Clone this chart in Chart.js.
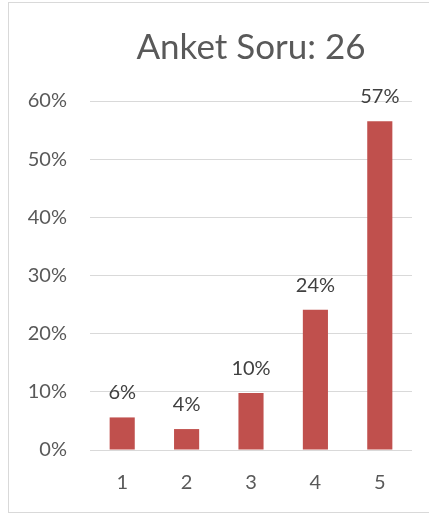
<!DOCTYPE html>
<html>
<head>
<meta charset="utf-8">
<script src="https://cdn.jsdelivr.net/npm/chart.js@4"></script>
<style>
    html, body { margin: 0; padding: 0; background: #fff; }
    #wrap { position: relative; width: 429px; height: 516px; }
    #frame {
        position: absolute; left: 8px; top: 2px; width: 425px; height: 511px;
        border: 1px solid #d9d9d9; box-sizing: border-box;
    }
    canvas { position: absolute; left: 0; top: 0; }
</style>
</head>
<body>
<div id="wrap">
    <div id="frame"></div>
    <canvas id="surveyChart" width="429" height="516"></canvas>
</div>
<script>
const categories = ['1', '2', '3', '4', '5'];
const shares = [5.6, 3.6, 9.8, 24.1, 56.5];      // percent of answers
const shareLabels = ['6%', '4%', '10%', '24%', '57%'];
const yTicks = [0, 10, 20, 30, 40, 50, 60];

const textGrey = '#595959';

// small inline plugin to print the value above every bar
const barLabels = {
    id: 'barLabels',
    afterDatasetsDraw(chart) {
        const ctx = chart.ctx;
        const meta = chart.getDatasetMeta(0);
        ctx.save();
        ctx.font = '20px Lato';
        ctx.fillStyle = '#404040';
        ctx.textAlign = 'center';
        ctx.textBaseline = 'alphabetic';
        meta.data.forEach((bar, i) => {
            ctx.fillText(shareLabels[i], bar.x, bar.y - 18);
        });
        ctx.restore();
    }
};

document.addEventListener('DOMContentLoaded', function () {
    const ctx = document.getElementById('surveyChart').getContext('2d');

    new Chart(ctx, {
        type: 'bar',
        data: {
            labels: categories,
            datasets: [{
                data: shares,
                backgroundColor: '#c0504d',
                barPercentage: 0.39,
                categoryPercentage: 1
            }]
        },
        plugins: [barLabels],
        options: {
            responsive: false,
            animation: false,
            layout: { padding: { left: 0, right: 17, top: 0, bottom: 0 } },
            plugins: {
                legend: { display: false },
                tooltip: { enabled: false },
                title: {
                    display: true,
                    fullSize: false, // centre over the plot like Excel does
                    text: 'Anket Soru: 26',
                    color: textGrey,
                    font: { family: 'Lato', size: 35, weight: 'normal' },
                    padding: { top: 27, bottom: 32 }
                }
            },
            scales: {
                y: {
                    min: 0,
                    max: 60,
                    afterFit: function (scale) { scale.width = 90; },
                    afterBuildTicks: function (scale) {
                        scale.ticks = yTicks.map(v => ({ value: v }));
                    },
                    grid: { color: '#d9d9d9', lineWidth: 1, drawTicks: false },
                    border: { display: false },
                    ticks: {
                        padding: 23,
                        color: textGrey,
                        font: { family: 'Lato', size: 20 },
                        callback: function (value) { return value + '%'; }
                    }
                },
                x: {
                    grid: { display: false, drawTicks: false },
                    border: { display: false },
                    ticks: {
                        padding: 21,
                        color: textGrey,
                        font: { family: 'Lato', size: 20 }
                    }
                }
            }
        }
    });
});
</script>
</body>
</html>
